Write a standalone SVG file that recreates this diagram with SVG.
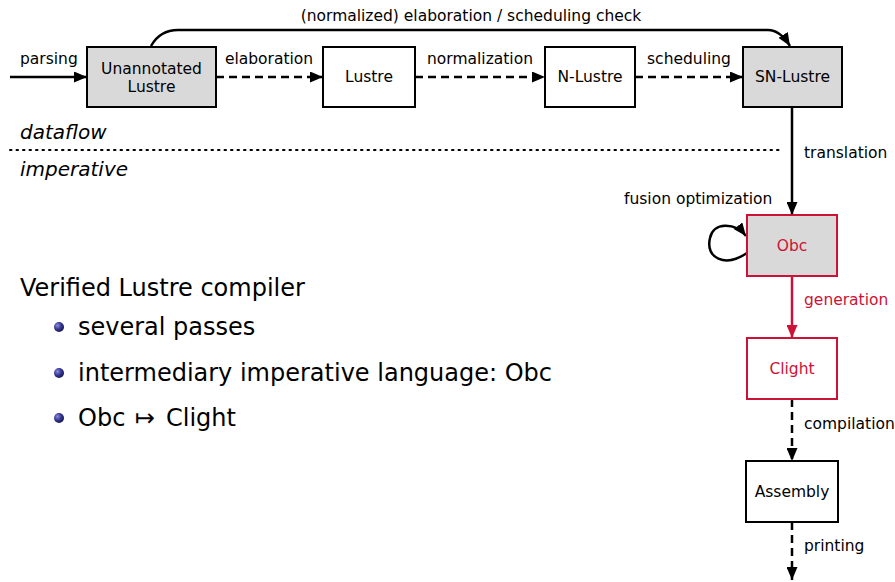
<svg xmlns="http://www.w3.org/2000/svg" width="895" height="582" viewBox="0 0 895 582">
<defs>
<marker id="ah" viewBox="0 0 13 11" refX="13" refY="5.5" markerWidth="13" markerHeight="11" markerUnits="userSpaceOnUse" orient="auto"><path d="M0,0 L13,5.5 L0,11 Z" fill="#000"/></marker>
<marker id="ahr" viewBox="0 0 13 11" refX="13" refY="5.5" markerWidth="13" markerHeight="11" markerUnits="userSpaceOnUse" orient="auto"><path d="M0,0 L13,5.5 L0,11 Z" fill="#cc1236"/></marker>
<radialGradient id="ball" cx="0.35" cy="0.35" r="0.7"><stop offset="0" stop-color="#8c8cd8"/><stop offset="0.5" stop-color="#3a3a9a"/><stop offset="1" stop-color="#14144a"/></radialGradient>
<style>
.box{stroke:#000;stroke-width:2;fill:#fff}
.gray{fill:#d9d9d9}
.red{stroke:#cc1236}
.lbl{font-family:"DejaVu Sans",sans-serif;font-size:15.5px;text-anchor:middle;fill:#000}
.elbl{font-family:"DejaVu Sans",sans-serif;font-size:15.5px;fill:#000}
.con{stroke:#000;stroke-width:2.5;fill:none;marker-end:url(#ah)}
.dash{stroke-dasharray:8,5}
.big{font-family:"DejaVu Sans",sans-serif;font-size:24px;fill:#000}
.it{font-family:"DejaVu Sans",sans-serif;font-size:20px;font-style:italic;fill:#000}
</style>
</defs>
<rect width="895" height="582" fill="#fff"/>

<g id="connectors">
<path class="con" d="M10,77 L87,77"/>
<path class="con dash" d="M216,77 L323,77"/>
<path class="con dash" d="M415,77 L545,77"/>
<path class="con dash" d="M635,77 L743,77"/>
<path class="con" d="M151,46 Q160,30 178,30 L768,30 Q780,30 790,46"/>
<path class="con" d="M792,107 L792,215"/>
<path class="con" d="M747,253 C725,268 705,258 710,238 C713,222 735,222 746,236"/>
<path class="con" d="M792,276 L792,338" style="stroke:#cc1236;marker-end:url(#ahr)"/>
<path class="con dash" d="M792,399 L792,461"/>
<path class="con dash" d="M792,522 L792,580"/>
<text class="elbl" x="20" y="64">parsing</text>
<text class="lbl" x="269" y="64">elaboration</text>
<text class="lbl" x="480" y="64">normalization</text>
<text class="lbl" x="689" y="64">scheduling</text>
<text class="lbl" x="471" y="21">(normalized) elaboration / scheduling check</text>
<text class="elbl" x="804" y="158">translation</text>
<text class="elbl" x="624" y="204">fusion optimization</text>
<text class="elbl" x="804" y="305" style="fill:#cc1236">generation</text>
<text class="elbl" x="804" y="429">compilation</text>
<text class="elbl" x="804" y="551">printing</text>
</g>

<g id="n-unannotated"><rect class="box gray" x="87" y="47" width="129" height="60"/><text class="lbl" x="151.5" y="74">Unannotated</text><text class="lbl" x="151.5" y="92">Lustre</text></g>
<g id="n-lustre"><rect class="box" x="323" y="47" width="92" height="60"/><text class="lbl" x="369" y="82">Lustre</text></g>
<g id="n-nlustre"><rect class="box" x="545" y="47" width="90" height="60"/><text class="lbl" x="590" y="82">N-Lustre</text></g>
<g id="n-snlustre"><rect class="box gray" x="743" y="47" width="99" height="60"/><text class="lbl" x="792.5" y="82">SN-Lustre</text></g>
<g id="n-obc"><rect class="box gray red" x="747" y="215" width="90" height="61"/><text class="lbl" x="792" y="251" style="fill:#cc1236">Obc</text></g>
<g id="n-clight"><rect class="box red" x="747" y="338" width="90" height="61"/><text class="lbl" x="792" y="374" style="fill:#cc1236">Clight</text></g>
<g id="n-assembly"><rect class="box" x="746" y="461" width="92" height="61"/><text class="lbl" x="792" y="497">Assembly</text></g>

<g id="regions">
<line x1="10" y1="150" x2="780" y2="150" stroke="#000" stroke-width="2" stroke-dasharray="1.5,5" stroke-linecap="round"/>
<text class="it" x="20" y="139">dataflow</text>
<text class="it" x="20" y="176">imperative</text>
</g>

<g id="text-block">
<text class="big" x="20" y="296">Verified Lustre compiler</text>
<circle cx="59" cy="327" r="5" fill="url(#ball)"/>
<text class="big" x="78" y="335">several passes</text>
<circle cx="59" cy="373" r="5" fill="url(#ball)"/>
<text class="big" x="78" y="381">intermediary imperative language: Obc</text>
<circle cx="59" cy="418" r="5" fill="url(#ball)"/>
<text class="big" x="78" y="426">Obc<tspan x="135">↦</tspan><tspan x="166">Clight</tspan></text>
</g>
</svg>
